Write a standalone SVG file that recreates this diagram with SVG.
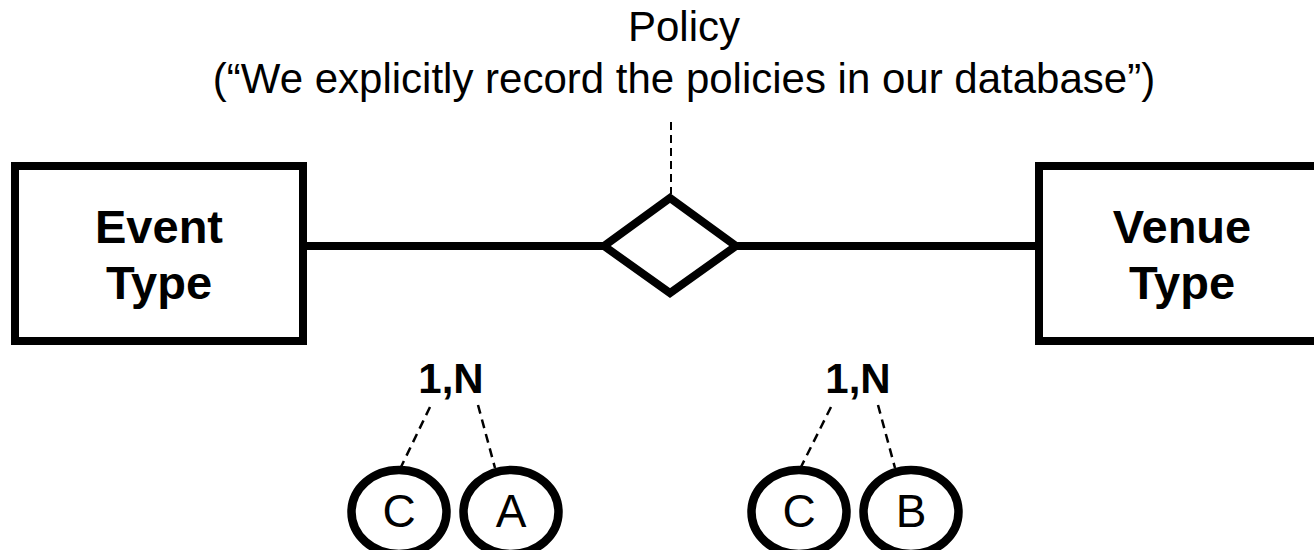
<svg xmlns="http://www.w3.org/2000/svg" width="1314" height="550" viewBox="0 0 1314 550">
  <style>
    .box { fill: #fff; stroke: #000; stroke-width: 8; }
    .rel { fill: #fff; stroke: #000; stroke-width: 8; stroke-linejoin: miter; }
    .attr { fill: #fff; stroke: #000; stroke-width: 8.5; }
    .link { stroke: #000; stroke-width: 8; fill: none; }
    .dash { stroke: #000; stroke-width: 2.5; stroke-dasharray: 9 6; fill: none; }
    .ent { font-family: "Liberation Sans", Arial, sans-serif; font-weight: bold; font-size: 47px; text-anchor: middle; fill: #000; }
    .card { font-family: "Liberation Sans", Arial, sans-serif; font-weight: bold; font-size: 42px; text-anchor: middle; fill: #000; }
    .lbl { font-family: "Liberation Sans", Arial, sans-serif; font-size: 46px; text-anchor: middle; fill: #000; }
    .note { font-family: "Liberation Sans", Arial, sans-serif; font-size: 42px; text-anchor: middle; fill: #000; }
  </style>

  <!-- connectors -->
  <g id="connectors">
    <line class="link" x1="303" y1="246" x2="604" y2="246"/>
    <line class="link" x1="736" y1="246" x2="1039" y2="246"/>
    <line class="dash" x1="671" y1="122" x2="671" y2="194" style="stroke-width:2;stroke-dasharray:8 5"/>
    <line class="dash" x1="430" y1="407" x2="401" y2="467"/>
    <line class="dash" x1="478" y1="405" x2="495" y2="468"/>
    <line class="dash" x1="831" y1="407" x2="801" y2="467"/>
    <line class="dash" x1="878" y1="405" x2="895" y2="468"/>
  </g>

  <!-- annotation above the relationship -->
  <g id="policy-note">
    <text class="note" x="684" y="41">Policy</text>
    <text class="note" x="684" y="93">(“We explicitly record the policies in our database”)</text>
  </g>

  <g id="event-type">
    <rect class="box" x="15" y="166" width="288" height="175"/>
    <text class="ent" x="159" y="243">Event</text>
    <text class="ent" x="159" y="299">Type</text>
  </g>

  <g id="venue-type">
    <rect class="box" x="1039" y="166" width="288" height="175"/>
    <text class="ent" x="1182" y="243">Venue</text>
    <text class="ent" x="1182" y="299">Type</text>
  </g>

  <g id="policy-rel">
    <path class="rel" d="M670,198 L736,246 L670,293 L604,246 Z"/>
  </g>

  <g id="card-left">
    <text class="card" x="451" y="393">1,N</text>
  </g>
  <g id="card-right">
    <text class="card" x="858" y="393">1,N</text>
  </g>

  <g id="attr-c-left">
    <ellipse class="attr" cx="399" cy="512" rx="47.5" ry="42"/>
    <text class="lbl" x="399" y="527">C</text>
  </g>
  <g id="attr-a">
    <ellipse class="attr" cx="511" cy="512" rx="47.5" ry="42"/>
    <text class="lbl" x="511" y="527">A</text>
  </g>
  <g id="attr-c-right">
    <ellipse class="attr" cx="799" cy="512" rx="47.5" ry="42"/>
    <text class="lbl" x="799" y="527">C</text>
  </g>
  <g id="attr-b">
    <ellipse class="attr" cx="911" cy="512" rx="47.5" ry="42"/>
    <text class="lbl" x="911" y="527">B</text>
  </g>
</svg>
